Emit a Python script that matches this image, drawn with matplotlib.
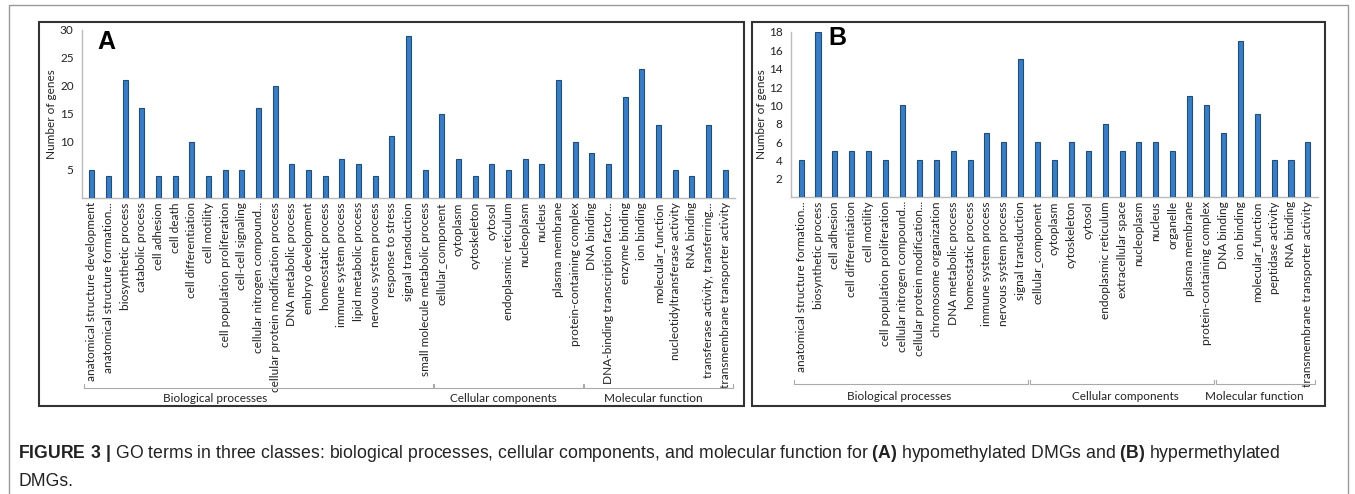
import matplotlib
matplotlib.use("Agg")
import matplotlib.pyplot as plt
from matplotlib.patches import Rectangle
from matplotlib.lines import Line2D
from matplotlib.transforms import blended_transform_factory

W, H = 1355, 494

# GO terms, panel A (hypomethylated DMGs)
terms_a = [
    "anatomical structure development", "anatomical structure formation...",
    "biosynthetic process", "catabolic process", "cell adhesion", "cell death",
    "cell differentiation", "cell motility", "cell population proliferation",
    "cell-cell signaling", "cellular nitrogen compound...",
    "cellular protein modification process", "DNA metabolic process",
    "embryo development", "homeostatic process", "immune system process",
    "lipid metabolic process", "nervous system process", "response to stress",
    "signal transduction", "small molecule metabolic process",
    "cellular_component", "cytoplasm", "cytoskeleton", "cytosol",
    "endoplasmic reticulum", "nucleoplasm", "nucleus", "plasma membrane",
    "protein-containing complex",
    "DNA binding", "DNA-binding transcription factor...", "enzyme binding",
    "ion binding", "molecular_function", "nucleotidyltransferase activity",
    "RNA binding", "transferase activity, transferring...",
    "transmembrane transporter activity",
]
genes_a = [5, 4, 21, 16, 4, 4, 10, 4, 5, 5, 16, 20, 6, 5, 4, 7, 6, 4, 11, 29, 5,
           15, 7, 4, 6, 5, 7, 6, 21, 10,
           8, 6, 18, 23, 13, 5, 4, 13, 5]
groups_a = [("Biological processes", 21), ("Cellular components", 9),
            ("Molecular function", 9)]

# GO terms, panel B (hypermethylated DMGs)
terms_b = [
    "anatomical structure formation...", "biosynthetic process", "cell adhesion",
    "cell differentiation", "cell motility", "cell population proliferation",
    "cellular nitrogen compound...", "cellular protein modification...",
    "chromosome organization", "DNA metabolic process", "homeostatic process",
    "immune system process", "nervous system process", "signal transduction",
    "cellular_component", "cytoplasm", "cytoskeleton", "cytosol",
    "endoplasmic reticulum", "extracellular space", "nucleoplasm", "nucleus",
    "organelle", "plasma membrane", "protein-containing complex",
    "DNA binding", "ion binding", "molecular_function", "peptidase activity",
    "RNA binding", "transmembrane transporter activity",
]
genes_b = [4, 18, 5, 5, 5, 4, 10, 4, 4, 5, 4, 7, 6, 15,
           6, 4, 6, 5, 8, 5, 6, 6, 5, 11, 10,
           7, 17, 9, 4, 4, 6]
groups_b = [("Biological processes", 14), ("Cellular components", 11),
            ("Molecular function", 6)]

LABEL_FONT = ["Lato", "DejaVu Sans"]


def fx(x):
    return x / W


def fy(y):
    return 1 - y / H


def draw_panel(fig, ax, terms, genes, ymax, yticks, groups, label_shift,
               bracket_y, group_y, ylabel_x, letter, letter_xy):
    idx = list(range(len(terms)))
    ax.bar(idx, genes, width=0.3, color="#3B7DC4", edgecolor="#1F4E79",
           linewidth=0.8, zorder=3)
    ax.set_xlim(-0.6, len(terms) - 0.4)
    ax.set_ylim(0, ymax)
    ax.set_yticks(yticks)
    ax.set_yticklabels([str(t) for t in yticks], fontsize=8.5,
                       family=LABEL_FONT, color="#222222")
    ax.set_xticks(idx)
    ax.set_xticklabels(terms, rotation=90, fontsize=8.6, family=LABEL_FONT,
                       color="#222222", va="top", ha="center")
    ax.tick_params(axis="both", length=0)
    ax.tick_params(axis="x", pad=3)
    ax.tick_params(axis="y", pad=6)
    for side in ("top", "right"):
        ax.spines[side].set_visible(False)
    for side in ("left", "bottom"):
        ax.spines[side].set_color("#BBBBBB")
        ax.spines[side].set_linewidth(1.0)
    ax.set_ylabel("Number of genes", fontsize=8.5, family=LABEL_FONT,
                  color="#222222")
    ax.yaxis.set_label_coords(ylabel_x, 0.5)

    # category brackets under the tick labels
    trans = blended_transform_factory(ax.transData, fig.transFigure)
    start = 0
    for (name, n), shift in zip(groups, label_shift):
        x0, x1 = start - 0.45, start + n - 0.55
        yb = fy(bracket_y)
        tick = 4 / H
        ax.add_line(Line2D([x0, x0, x1, x1], [yb + tick, yb, yb, yb + tick],
                           transform=trans, color="#AAAAAA", lw=0.8,
                           clip_on=False))
        ax.text((x0 + x1) / 2 + shift, fy(group_y), name, transform=trans,
                ha="center", va="center", fontsize=8.5, family=LABEL_FONT,
                color="#222222")
        start += n

    fig.text(fx(letter_xy[0]), fy(letter_xy[1]), letter, fontsize=18,
             fontweight="bold", family="Liberation Sans", ha="left",
             va="center")


plt.rcParams["mathtext.fontset"] = "custom"
plt.rcParams["mathtext.rm"] = "Liberation Sans"
plt.rcParams["mathtext.bf"] = "Liberation Sans:bold"

fig = plt.figure(figsize=(W / 100, H / 100), dpi=100)

# page frame and panel boxes
fig.add_artist(Line2D([fx(9), fx(9), fx(1348), fx(1348)],
                      [0, fy(5), fy(5), 0], color="#999999", lw=1.0))
fig.add_artist(Rectangle((fx(39), fy(406)), fx(744) - fx(39), fy(22) - fy(406),
                         fill=False, edgecolor="#333333", lw=1.5))
fig.add_artist(Rectangle((fx(752), fy(406)), fx(1325) - fx(752),
                         fy(22) - fy(406), fill=False, edgecolor="#333333",
                         lw=1.5))

ax_a = fig.add_axes([fx(82), fy(198), fx(735) - fx(82), fy(30) - fy(198)])
draw_panel(fig, ax_a, terms_a, genes_a, 30, [5, 10, 15, 20, 25, 30], groups_a,
           [-2.6, -0.3, -0.3], 388, 398, -0.038, "A", (97, 42))

ax_b = fig.add_axes([fx(791), fy(197), fx(1318) - fx(791), fy(32) - fy(197)])
draw_panel(fig, ax_b, terms_b, genes_b, 18, list(range(2, 19, 2)), groups_b,
           [-0.7, 0.2, -0.7], 384, 396, -0.046, "B", (828, 38))

caption = (r"$\bf{FIGURE\ 3\ |}$ GO terms in three classes: biological processes, "
           r"cellular components, and molecular function for $\bf{(A)}$ "
           r"hypomethylated DMGs and $\bf{(B)}$ hypermethylated")
fig.text(fx(18), fy(453), caption, fontsize=12.7, family="Liberation Sans",
         ha="left", va="center", color="#222222")
fig.text(fx(18), fy(481), "DMGs.", fontsize=12.7, family="Liberation Sans",
         ha="left", va="center", color="#222222")

fig.savefig("out.png", dpi=100)
